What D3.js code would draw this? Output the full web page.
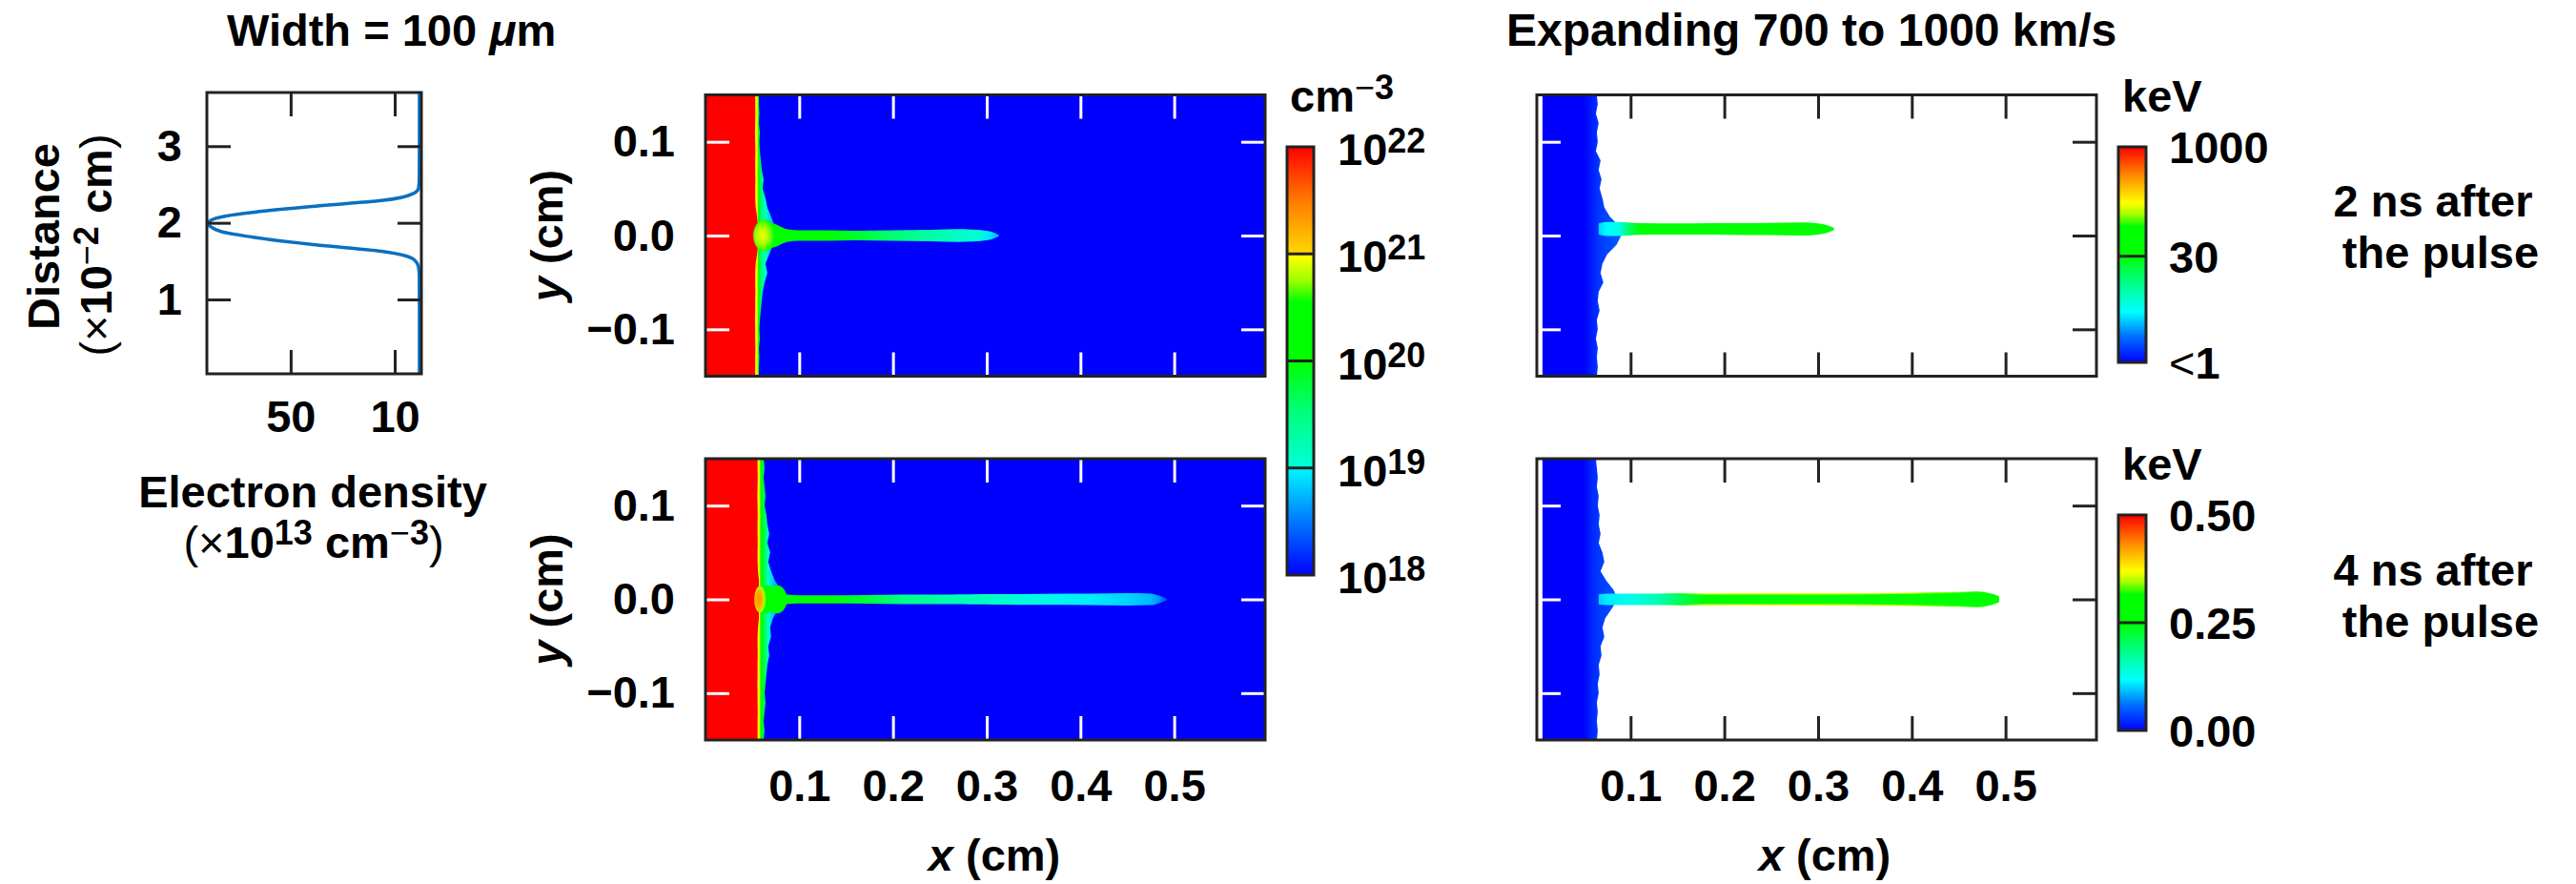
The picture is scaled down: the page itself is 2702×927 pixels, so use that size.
<!DOCTYPE html>
<html>
<head>
<meta charset="utf-8">
<script src="https://cdn.jsdelivr.net/npm/d3@7"></script>
<style>
  body { margin: 0; background: #fff; }
  svg text { font-family: "Liberation Sans", Arial, Helvetica, sans-serif; font-weight: bold; fill: #000; }
</style>
</head>
<body>
<svg id="fig" width="2702" height="927"></svg>
<script>
// ---------------- data ----------------
// left: electron density profile across the channel
const profDist = [0.03, 0.80, 1.30, 1.42, 1.53, 1.63, 1.71, 1.81, 1.88, 1.95, 1.99, 2.03, 2.08, 2.14, 2.22, 2.29, 2.38, 2.45, 2.60, 3.20, 3.70];
const profDens = [0.5, 0.5, 0.55, 0.85, 3.0, 15.1, 39.6, 63.8, 76.2, 80.8, 81.7, 80.8, 76.2, 63.8, 39.6, 15.1, 3.0, 0.85, 0.55, 0.5, 0.5];
const profXTicks = [50, 10];
const profYTicks = [1, 2, 3];

// maps: shared axes
const mapXTicks = [0.1, 0.2, 0.3, 0.4, 0.5];
const mapYTicks = [-0.1, 0.0, 0.1];
const edgeY = [0.15, 0.14, 0.13, 0.12, 0.11, 0.10, 0.09, 0.08, 0.07, 0.06, 0.05, 0.04, 0.03, 0.02, 0.01, 0.00,
  -0.01, -0.02, -0.03, -0.04, -0.05, -0.06, -0.07, -0.08, -0.09, -0.10, -0.11, -0.12, -0.13, -0.14, -0.15];

// density colour map (log10 n_e)
const densTicks = [18, 19, 20, 21, 22];
const densCmapLog = [18, 18.5, 18.98, 19.02, 19.5, 20, 20.55, 20.75, 20.98, 21.02, 21.5, 22];
const densCmapCol = ['#0000ff', '#0078ff', '#00f4ff', '#00ffd6', '#00ff80', '#00ff00', '#00ff00', '#9cff00', '#ffff00', '#ffd400', '#ff7a00', '#ff0000'];

// density, 2 ns
const slabN2 = [0.053, 0.053, 0.0532, 0.053, 0.0528, 0.053, 0.0532, 0.053, 0.053, 0.0532, 0.053, 0.053, 0.0535, 0.055, 0.056, 0.056,
  0.056, 0.055, 0.0535, 0.053, 0.053, 0.0532, 0.053, 0.053, 0.0528, 0.053, 0.053, 0.0532, 0.053, 0.053, 0.053];
const haloN2 = [0.057, 0.057, 0.0575, 0.057, 0.058, 0.0575, 0.058, 0.059, 0.060, 0.062, 0.061, 0.064, 0.066, 0.070, 0.074, 0.074,
  0.072, 0.068, 0.064, 0.066, 0.063, 0.061, 0.060, 0.059, 0.058, 0.0575, 0.058, 0.057, 0.0575, 0.057, 0.057];
const haloXN2 = [0.053, 0.0552, 0.0566, 0.059, 0.064, 0.072];
const haloLogN2 = [21.0, 20.9, 20.3, 19.6, 19.1, 18.7];
const jetXN2 = [0.062, 0.075, 0.088, 0.10, 0.13, 0.16, 0.20, 0.24, 0.27, 0.29, 0.305, 0.313];
const jetHN2 = [0.016, 0.012, 0.0065, 0.0055, 0.0055, 0.005, 0.0055, 0.006, 0.0068, 0.006, 0.004, 0.0008];
const jetLogN2 = [20.4, 20.25, 20.2, 20.15, 20.05, 19.85, 19.55, 19.3, 19.12, 19.05, 18.9, 18.7];
const blobsN2 = [{ x: 0.063, rx: 0.012, ry: 0.017, core: 20.95, rim: 20.25 }];

// density, 4 ns
const slabN4 = [0.0555, 0.0555, 0.0557, 0.0555, 0.0553, 0.0555, 0.0557, 0.0555, 0.0555, 0.0557, 0.0555, 0.0555, 0.056, 0.057, 0.057, 0.057,
  0.057, 0.057, 0.056, 0.0555, 0.0555, 0.0557, 0.0555, 0.0555, 0.0553, 0.0555, 0.0555, 0.0557, 0.0555, 0.0555, 0.0555];
const haloN4 = [0.062, 0.063, 0.062, 0.063, 0.064, 0.063, 0.065, 0.066, 0.068, 0.066, 0.069, 0.067, 0.070, 0.074, 0.080, 0.082,
  0.078, 0.072, 0.069, 0.070, 0.067, 0.068, 0.066, 0.065, 0.064, 0.063, 0.064, 0.063, 0.062, 0.063, 0.062];
const haloXN4 = [0.0555, 0.0575, 0.059, 0.062, 0.067, 0.075];
const haloLogN4 = [21.0, 20.9, 20.3, 19.8, 19.1, 18.7];
const jetXN4 = [0.062, 0.075, 0.087, 0.10, 0.13, 0.17, 0.21, 0.26, 0.31, 0.36, 0.41, 0.45, 0.475, 0.484, 0.492];
const jetHN4 = [0.015, 0.013, 0.005, 0.0042, 0.0042, 0.0045, 0.005, 0.0052, 0.0055, 0.0058, 0.006, 0.0065, 0.0062, 0.004, 0.001];
const jetLogN4 = [20.3, 20.25, 20.2, 20.15, 20.05, 19.8, 19.45, 19.25, 19.1, 19.0, 18.95, 18.85, 18.75, 18.6, 18.3];
const blobsN4 = [
  { x: 0.076, rx: 0.011, ry: 0.015, core: 20.3, rim: 20.1 },
  { x: 0.058, rx: 0.006, ry: 0.014, core: 21.4, rim: 20.8 }
];

// temperature colour map (fraction of bar)
const tempCmapPos = [0, 0.12, 0.235, 0.36, 0.5, 0.63, 0.69, 0.74, 0.86, 1];
const tempCmapCol = ['#0000ff', '#0070ff', '#00ffff', '#00ff90', '#00ff00', '#00ff00', '#a8ff00', '#ffff00', '#ff9000', '#ff0000'];
const coldX = [0.006, 0.050, 0.058, 0.066, 0.09];

// temperature, 2 ns (keV, log bar)
const tempTicksT2 = [1000, 30, 1];
const tempEdgeT2 = [0.064, 0.065, 0.063, 0.066, 0.064, 0.065, 0.063, 0.068, 0.066, 0.069, 0.067, 0.070, 0.072, 0.078, 0.088, 0.090,
  0.085, 0.075, 0.070, 0.068, 0.071, 0.066, 0.065, 0.067, 0.064, 0.065, 0.063, 0.065, 0.064, 0.065, 0.064];
const coldT2 = [0.5, 0.5, 1.2, 1.5, 2.0];
const jetXT2 = [0.066, 0.075, 0.088, 0.097, 0.11, 0.15, 0.20, 0.25, 0.285, 0.30, 0.31, 0.317];
const jetHT2 = [0.006, 0.0075, 0.0075, 0.007, 0.0062, 0.006, 0.0062, 0.0066, 0.007, 0.006, 0.004, 0.0012];
const jetTT2 = [4, 5, 6, 15, 32, 40, 38, 36, 35, 34, 32, 30];
const jetCT2 = 0.007;

// temperature, 4 ns (keV, linear bar)
const tempTicksT4 = [0.5, 0.25, 0];
const tempEdgeT4 = [0.063, 0.064, 0.065, 0.064, 0.066, 0.065, 0.067, 0.066, 0.068, 0.066, 0.070, 0.072, 0.068, 0.074, 0.082, 0.086,
  0.080, 0.073, 0.070, 0.072, 0.068, 0.069, 0.066, 0.067, 0.065, 0.066, 0.064, 0.065, 0.064, 0.065, 0.064];
const coldT4 = [0.0, 0.0, 0.02, 0.03, 0.05];
const jetXT4 = [0.066, 0.075, 0.10, 0.13, 0.155, 0.18, 0.25, 0.32, 0.40, 0.45, 0.47, 0.484, 0.493];
const jetHT4 = [0.004, 0.0048, 0.0048, 0.0048, 0.005, 0.005, 0.0052, 0.0052, 0.0058, 0.0066, 0.007, 0.005, 0.002];
const jetTT4 = [0.10, 0.11, 0.13, 0.16, 0.21, 0.25, 0.26, 0.27, 0.27, 0.27, 0.26, 0.25, 0.25];
const jetRimT4 = [0.10, 0.11, 0.13, 0.17, 0.26, 0.36, 0.38, 0.36, 0.35, 0.33, 0.30, 0.27, 0.25];

// ---------------- setup ----------------
const FS = 47;
const SUP = 36;
const svg = d3.select('#fig');
const defs = svg.append('defs');
svg.append('rect').attr('width', 2702).attr('height', 927).attr('fill', '#fff');

const densColor = d3.scaleLinear().domain(densCmapLog).range(densCmapCol).clamp(true);
const tempColor = d3.scaleLinear().domain(tempCmapPos).range(tempCmapCol).clamp(true);
const tLog = d3.scaleLog().domain([1, 1000]).range([0, 1]).clamp(true);
const tLin = d3.scaleLinear().domain([0, 0.5]).range([0, 1]).clamp(true);

let uid = 0;

function panelScales(left, top) {
  return {
    x: d3.scaleLinear().domain([0, 0.597]).range([left, left + 587]),
    y: d3.scaleLinear().domain([-0.15, 0.15]).range([top + 295, top])
  };
}

function hGrad(x, xs, cols) {
  const id = 'hg' + (uid++);
  const a = x(xs[0]), b = x(xs[xs.length - 1]);
  const lg = defs.append('linearGradient').attr('id', id)
    .attr('gradientUnits', 'userSpaceOnUse')
    .attr('x1', a).attr('x2', b).attr('y1', 0).attr('y2', 0);
  xs.forEach((v, i) => lg.append('stop').attr('offset', (x(v) - a) / (b - a)).attr('stop-color', cols[i]));
  return `url(#${id})`;
}

function clipFor(x, y) {
  const id = 'clip' + (uid++);
  defs.append('clipPath').attr('id', id).append('rect')
    .attr('x', x.range()[0]).attr('y', y.range()[1])
    .attr('width', x.range()[1] - x.range()[0]).attr('height', y.range()[0] - y.range()[1]);
  return `url(#${id})`;
}

function edgeArea(x, y, from, edges) {
  return d3.area().y(d => y(d[0])).x0(x(from)).x1(d => x(d[1]))(d3.zip(edgeY, edges));
}

function drawJet(f, x, y, xs, hs, vals, colorOf, cy) {
  const pts = d3.zip(xs, hs);
  const area = d3.area()
    .x(d => x(d[0]))
    .y0(d => y(cy - d[1]))
    .y1(d => y(cy + d[1]))
    .curve(d3.curveMonotoneX);
  f.append('path').attr('d', area(pts)).attr('fill', hGrad(x, xs, vals.map(colorOf)));
}

function drawBlob(f, x, y, b) {
  const id = 'rg' + (uid++);
  const rg = defs.append('radialGradient').attr('id', id).attr('cx', 0.4).attr('cy', 0.5).attr('r', 0.55);
  rg.append('stop').attr('offset', 0).attr('stop-color', densColor(b.core));
  rg.append('stop').attr('offset', 0.45).attr('stop-color', densColor(b.core - 0.15));
  rg.append('stop').attr('offset', 1).attr('stop-color', densColor(b.rim));
  f.append('ellipse')
    .attr('cx', x(b.x)).attr('cy', y(0))
    .attr('rx', x(b.x + b.rx) - x(b.x)).attr('ry', y(0) - y(b.ry))
    .attr('fill', `url(#${id})`);
}

// ticks on all four sides, pointing inwards, plus the frame
function frame(g, x, y, xt, yt, cols, lab) {
  const L = 25;
  const [xl, xr] = x.range(), [yb, ytop] = y.range();
  const add = (axis, tx, ty, col) => {
    const a = g.append('g').attr('transform', `translate(${tx},${ty})`).call(axis).attr('font-size', FS);
    a.select('.domain').remove();
    a.selectAll('.tick line').attr('stroke', col).attr('stroke-width', 3);
    return a;
  };
  const none = () => '';
  add(d3.axisTop(x).tickValues(xt).tickSize(-L).tickFormat(none), 0, ytop, cols.top);
  add(d3.axisBottom(x).tickValues(xt).tickSize(-L).tickPadding(lab.xPad || 31)
    .tickFormat(lab.x || none), 0, yb, cols.bottom);
  add(d3.axisLeft(y).tickValues(yt).tickSize(-L).tickPadding(lab.yPad || 32)
    .tickFormat(lab.y || none), xl, 0, cols.left);
  add(d3.axisRight(y).tickValues(yt).tickSize(-L).tickFormat(none), xr, 0, cols.right);
  g.append('rect').attr('x', xl).attr('y', ytop).attr('width', xr - xl).attr('height', yb - ytop)
    .attr('fill', 'none').attr('stroke', '#222').attr('stroke-width', 3);
}

// text with superscripts / mixed weights
function richText(parent, x, y, parts, opts = {}) {
  const t = parent.append('text').attr('x', x).attr('y', y)
    .attr('text-anchor', opts.anchor || 'start').attr('font-size', opts.size || FS);
  const shift = opts.shift || 15;
  let raised = 0;
  parts.forEach(p => {
    const s = t.append('tspan').text(p.t);
    const want = p.sup ? shift : 0;
    if (want !== raised) { s.attr('dy', raised - want); raised = want; }
    if (p.sup) s.attr('font-size', SUP);
    if (p.normal) s.attr('font-weight', 'normal');
    if (p.italic) s.attr('font-style', 'italic');
  });
  return t;
}

// ---------------- left profile ----------------
{
  const px = d3.scaleLinear().domain([82.2, -0.25]).range([217, 442]);
  const py = d3.scaleLinear().domain([0.03, 3.70]).range([392, 97]);
  const g = svg.append('g');
  const line = d3.line().x(d => px(d[1])).y(d => py(d[0])).curve(d3.curveMonotoneY);
  g.append('path').attr('d', line(d3.zip(profDist, profDens)))
    .attr('fill', 'none').attr('stroke', '#0a70c0').attr('stroke-width', 3.5);
  frame(g, px, py, profXTicks, profYTicks, { top: '#222', bottom: '#222', left: '#222', right: '#222' },
    { x: d3.format('d'), y: d3.format('d'), xPad: 28, yPad: 26 });

  richText(svg, 238, 48, [{ t: 'Width = 100 ' }, { t: 'μ', italic: true }, { t: 'm' }]);
  const r1 = svg.append('g').attr('transform', 'translate(62,248) rotate(-90)');
  richText(r1, 0, 0, [{ t: 'Distance' }], { anchor: 'middle' });
  const r2 = svg.append('g').attr('transform', 'translate(117,257) rotate(-90)');
  richText(r2, 0, 0, [{ t: '(×', normal: true }, { t: '10' }, { t: '−', sup: true, normal: true }, { t: '2', sup: true },
    { t: ' cm' }, { t: ')', normal: true }], { anchor: 'middle', shift: 14 });
  richText(svg, 328, 532, [{ t: 'Electron density' }], { anchor: 'middle' });
  richText(svg, 329, 585, [{ t: '(×', normal: true }, { t: '10' }, { t: '13', sup: true }, { t: ' cm' },
    { t: '−', sup: true, normal: true }, { t: '3', sup: true }, { t: ')', normal: true }], { anchor: 'middle', shift: 14 });
}

// ---------------- density maps ----------------
const densPanels = [
  { top: 99.5, slab: slabN2, halo: haloN2, haloX: haloXN2, haloN: haloLogN2, jetX: jetXN2, jetH: jetHN2, jetN: jetLogN2, blobs: blobsN2, xLabels: false },
  { top: 481, slab: slabN4, halo: haloN4, haloX: haloXN4, haloN: haloLogN4, jetX: jetXN4, jetH: jetHN4, jetN: jetLogN4, blobs: blobsN4, xLabels: true }
];

densPanels.forEach(p => {
  const { x, y } = panelScales(740, p.top);
  const g = svg.append('g');
  const f = g.append('g').attr('clip-path', clipFor(x, y));
  f.append('rect').attr('x', x.range()[0]).attr('y', y.range()[1])
    .attr('width', x.range()[1] - x.range()[0]).attr('height', y.range()[0] - y.range()[1])
    .attr('fill', densColor(18));
  f.append('path').attr('d', edgeArea(x, y, 0, p.halo)).attr('fill', hGrad(x, p.haloX, p.haloN.map(densColor)));
  drawJet(f, x, y, p.jetX, p.jetH, p.jetN, densColor, 0);
  f.append('path').attr('d', edgeArea(x, y, 0, p.slab)).attr('fill', densColor(22));
  p.blobs.forEach(b => drawBlob(f, x, y, b));
  frame(g, x, y, mapXTicks, mapYTicks, { top: '#fff', bottom: '#fff', left: '#fff', right: '#fff' },
    { x: p.xLabels ? d3.format('.1f') : null, y: d3.format('.1f') });
  const r = svg.append('g').attr('transform', `translate(590,${(y.range()[0] + y.range()[1]) / 2}) rotate(-90)`);
  richText(r, 0, 0, [{ t: 'y', italic: true }, { t: ' (cm)' }], { anchor: 'middle' });
  if (p.xLabels) richText(svg, 1043, 913, [{ t: 'x', italic: true }, { t: ' (cm)' }], { anchor: 'middle' });
});

// density colour bar
{
  const cb = d3.scaleLinear().domain([18, 22]).range([603, 154]);
  const id = 'cbN';
  const lg = defs.append('linearGradient').attr('id', id).attr('x1', 0).attr('y1', 1).attr('x2', 0).attr('y2', 0);
  densCmapLog.forEach((v, i) => lg.append('stop').attr('offset', (v - 18) / 4).attr('stop-color', densCmapCol[i]));
  svg.append('rect').attr('x', 1350).attr('y', cb(22)).attr('width', 28).attr('height', cb(18) - cb(22))
    .attr('fill', `url(#${id})`).attr('stroke', '#222').attr('stroke-width', 3);
  [19, 20, 21].forEach(v => svg.append('line').attr('x1', 1350).attr('x2', 1378).attr('y1', cb(v)).attr('y2', cb(v))
    .attr('stroke', '#222').attr('stroke-width', 3));
  densTicks.forEach(v => richText(svg, 1403, cb(v) + 19, [{ t: '10' }, { t: String(v), sup: true }], { shift: 13 }));
  richText(svg, 1353, 117, [{ t: 'cm' }, { t: '−', sup: true, normal: true }, { t: '3', sup: true }], { shift: 13 });
}

// ---------------- temperature maps ----------------
const tempPanels = [
  { top: 99.5, edge: tempEdgeT2, cold: coldT2, jetX: jetXT2, jetH: jetHT2, jetT: jetTT2, rimT: null, cy: jetCT2,
    color: v => tempColor(tLog(v)), frac: tLog, cbTop: 154, cbBot: 380, ticks: tempTicksT2, divider: 30,
    tickLab: [[{ t: '1000' }], [{ t: '30' }], [{ t: '<', normal: true }, { t: '1' }]], note: '2 ns after', noteY: 227, xLabels: false },
  { top: 481, edge: tempEdgeT4, cold: coldT4, jetX: jetXT4, jetH: jetHT4, jetT: jetTT4, rimT: jetRimT4, cy: 0,
    color: v => tempColor(tLin(v)), frac: tLin, cbTop: 540, cbBot: 766, ticks: tempTicksT4, divider: 0.25,
    tickLab: tempTicksT4.map(v => [{ t: d3.format('.2f')(v) }]), note: '4 ns after', noteY: 614, xLabels: true }
];

tempPanels.forEach((p, k) => {
  const { x, y } = panelScales(1612, p.top);
  const g = svg.append('g');
  const f = g.append('g').attr('clip-path', clipFor(x, y));
  f.append('path').attr('d', edgeArea(x, y, 0.006, p.edge)).attr('fill', hGrad(x, coldX, p.cold.map(p.color)));
  if (p.rimT) drawJet(f, x, y, p.jetX, p.jetH.map(h => h + 0.0014), p.rimT, p.color, p.cy);
  drawJet(f, x, y, p.jetX, p.jetH, p.jetT, p.color, p.cy);
  frame(g, x, y, mapXTicks, mapYTicks, { top: '#222', bottom: '#222', left: '#fff', right: '#222' },
    { x: p.xLabels ? d3.format('.1f') : null });
  if (p.xLabels) richText(svg, 1914, 913, [{ t: 'x', italic: true }, { t: ' (cm)' }], { anchor: 'middle' });

  // colour bar
  const cb = d3.scaleLinear().domain([0, 1]).range([p.cbBot, p.cbTop]);
  const id = 'cbT' + k;
  const lg = defs.append('linearGradient').attr('id', id).attr('x1', 0).attr('y1', 1).attr('x2', 0).attr('y2', 0);
  tempCmapPos.forEach((v, i) => lg.append('stop').attr('offset', v).attr('stop-color', tempCmapCol[i]));
  svg.append('rect').attr('x', 2222).attr('y', p.cbTop).attr('width', 29).attr('height', p.cbBot - p.cbTop)
    .attr('fill', `url(#${id})`).attr('stroke', '#222').attr('stroke-width', 3);
  svg.append('line').attr('x1', 2222).attr('x2', 2251)
    .attr('y1', cb(p.frac(p.divider))).attr('y2', cb(p.frac(p.divider)))
    .attr('stroke', '#222').attr('stroke-width', 3);
  p.ticks.forEach((v, i) => richText(svg, 2275, cb(p.frac(v)) + 17, p.tickLab[i]));
  richText(svg, 2226, p.cbTop - 37, [{ t: 'keV' }]);

  richText(svg, 2552, p.noteY, [{ t: p.note }], { anchor: 'middle' });
  richText(svg, 2560, p.noteY + 54, [{ t: 'the pulse' }], { anchor: 'middle' });
});

richText(svg, 1580, 48, [{ t: 'Expanding 700 to 1000 km/s' }], { size: 48 });
</script>
</body>
</html>
